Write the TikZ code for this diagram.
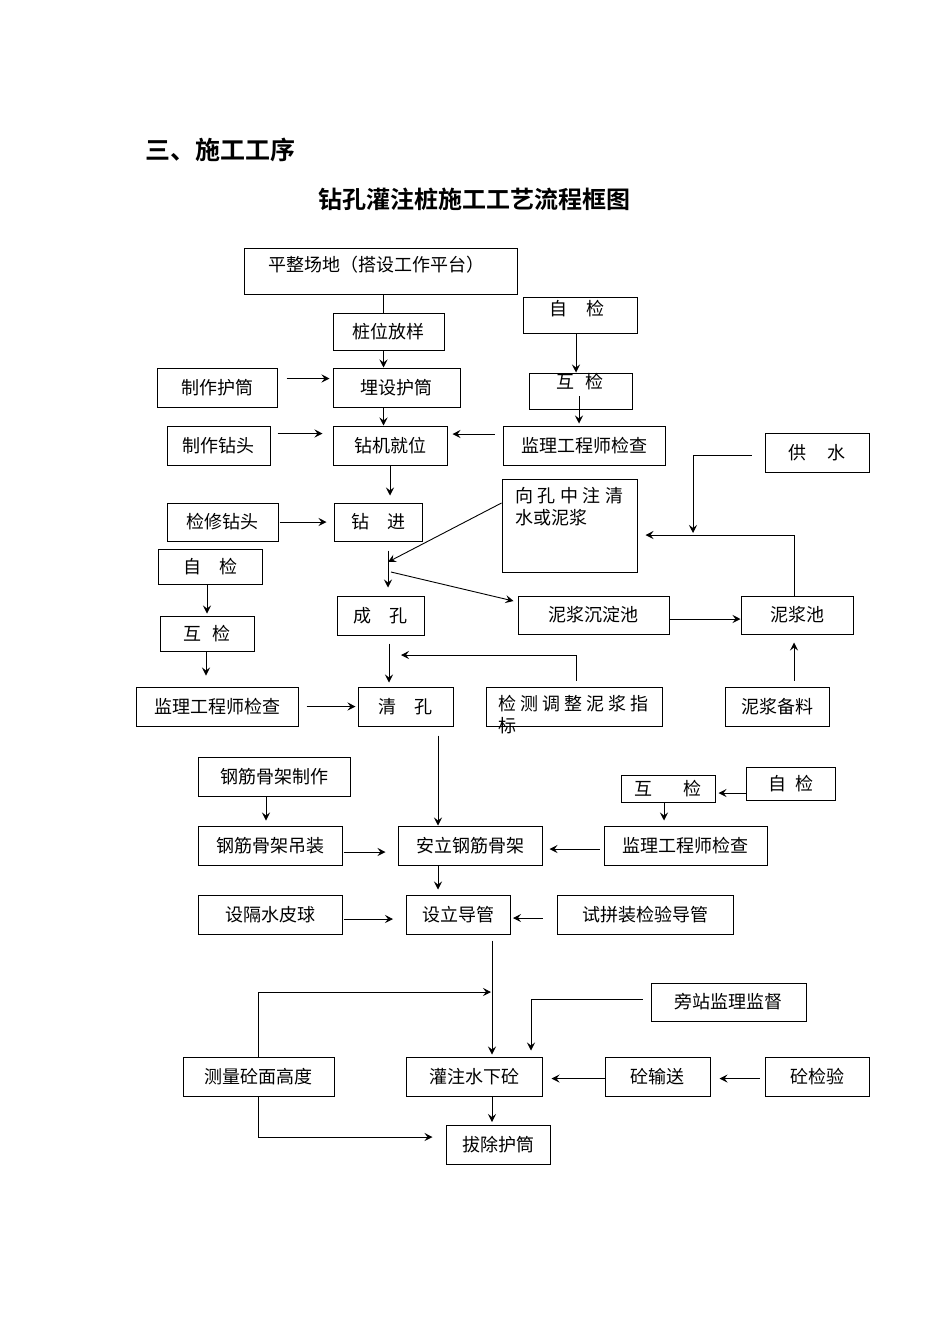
\documentclass[tikz,border=0pt]{standalone}
\usepackage{fontspec}
\usepackage{tikz}
\usetikzlibrary{arrows.meta,positioning,calc}
\newfontfamily\cjk{Noto Sans CJK SC}
\newfontfamily\cjkbf{Noto Sans CJK SC Bold}

\begin{document}
\begin{tikzpicture}[x=1pt, y=-1pt,
    box/.style={draw, line width=1pt, inner sep=0pt, minimum height=39pt, font=\cjk\fontsize{18}{22}\selectfont},
    txt/.style={inner sep=0pt, font=\cjk\fontsize{18}{22}\selectfont, align=left},
    arr/.style={line width=0.9pt, -{Stealth[length=8pt,width=8pt,inset=3pt]}},
    ln/.style={line width=0.9pt}]
    \useasboundingbox (0,0) rectangle (950,1344);

    % Titles
    \node[anchor=west, inner sep=0pt, font=\cjkbf\fontsize{25}{28}\selectfont] (sec) at (145,150) {三、施工工序};
    \node[inner sep=0pt, font=\cjkbf\fontsize{24}{28}\selectfont] (title) at (474,199) {钻孔灌注桩施工工艺流程框图};

    % Boring column
    \node[box, minimum width=273pt, minimum height=46pt] (pzcd) at (380.5,271) {};
    \node[txt] (pzcdt) at (376,265) {平整场地（搭设工作平台）};
    \node[box, minimum width=111pt, minimum height=37pt] (zwfy) at (388.5,331.5) {桩位放样};
    \node[box, minimum width=120pt] (zzhd) at (217,387.5) {制作护筒};
    \node[box, minimum width=127pt] (mshd) at (396.5,387.5) {埋设护筒};
    \node[box, minimum width=103pt] (zzzt) at (218.5,445.5) {制作钻头};
    \node[box, minimum width=114pt] (zjjw) at (390,445.5) {钻机就位};
    \node[box, minimum width=111pt, minimum height=38pt] (jxzt) at (222.5,522) {检修钻头};
    \node[box, minimum width=88pt, minimum height=38pt] (zj) at (378,522) {钻\hspace{1em}进};
    \node[box, minimum width=87pt] (ck) at (380.5,615.5) {成\hspace{1em}孔};
    \node[box, minimum width=95pt] (qk) at (405.5,706.5) {清\hspace{1em}孔};

    % Checks, top right
    \node[box, minimum width=114pt, minimum height=36pt] (zj1) at (580,315) {};
    \node[txt] (zj1t) at (577,309) {自\hspace{1.1em}检};
    \node[box, minimum width=103pt, minimum height=36pt] (hj1) at (580.5,391) {};
    \node[txt] (hj1t) at (580,382) {互\hspace{0.6em}检};
    \node[box, minimum width=162pt] (jl1) at (584,445.5) {监理工程师检查};

    % Mud circuit
    \node[box, minimum width=104pt] (gs) at (817,452.5) {供\hspace{1.2em}水};
    \node[box, minimum width=135pt, minimum height=93pt] (xk) at (569.5,525.5) {};
    \node[txt, anchor=north west] (xkt) at (515,487) {向\hspace{4.5pt}孔\hspace{4.5pt}中\hspace{4.5pt}注\hspace{4.5pt}清\\水或泥浆};
    \node[box, minimum width=151pt, minimum height=38pt] (njcd) at (593.5,615) {泥浆沉淀池};
    \node[box, minimum width=112pt, minimum height=38pt] (njc) at (797,615) {泥浆池};
    \node[box, minimum width=176pt] (jctz) at (574,706.5) {};
    \node[txt, anchor=north west] (jctzt) at (498,695) {检\hspace{4pt}测\hspace{4pt}调\hspace{4pt}整\hspace{4pt}泥\hspace{4pt}浆\hspace{4pt}指\\标};
    \node[box, minimum width=104pt] (njbl) at (777,706.5) {泥浆备料};

    % Checks, left
    \node[box, minimum width=104pt, minimum height=35pt] (zj2) at (210,566.5) {自\hspace{1em}检};
    \node[box, minimum width=94pt, minimum height=35pt] (hj2) at (207,633.5) {互\hspace{0.6em}检};
    \node[box, minimum width=162pt] (jl2) at (217,706.5) {监理工程师检查};

    % Cage and tremie
    \node[box, minimum width=152pt] (gjzz) at (274,776.5) {钢筋骨架制作};
    \node[box, minimum width=144pt] (gjdz) at (270,845.5) {钢筋骨架吊装};
    \node[box, minimum width=144pt] (alg) at (470,845.5) {安立钢筋骨架};
    \node[box, minimum width=94pt, minimum height=27pt] (hj3) at (668,788.5) {互\hspace{1.7em}检};
    \node[box, minimum width=89pt, minimum height=33pt] (zj3) at (791,783.5) {自\hspace{0.5em}检};
    \node[box, minimum width=163pt] (jl3) at (685.5,845.5) {监理工程师检查};
    \node[box, minimum width=144pt] (sgs) at (270,914.5) {设隔水皮球};
    \node[box, minimum width=104pt] (sldg) at (458.5,914.5) {设立导管};
    \node[box, minimum width=176pt] (spz) at (645,914.5) {试拼装检验导管};

    % Concreting
    \node[box, minimum width=155pt, minimum height=38pt] (pzjl) at (728.5,1002) {旁站监理监督};
    \node[box, minimum width=151pt] (clgm) at (258.5,1076.5) {测量砼面高度};
    \node[box, minimum width=136pt] (gz) at (474,1076.5) {灌注水下砼};
    \node[box, minimum width=105pt] (tss) at (657.5,1076.5) {砼输送};
    \node[box, minimum width=104pt] (tjy) at (817,1076.5) {砼检验};
    \node[box, minimum width=104pt] (bc) at (498,1145) {拔除护筒};

    \coordinate (jin) at (388,562);
    \coordinate (jout) at (391,572);
    \coordinate (gsd) at (693,533);
    \coordinate (jcl) at (401,655);
    \coordinate (cm1) at (491,992);

    % Connectors, boring column
    \draw[ln] ([xshift=-5pt]zwfy.north) -- ([xshift=-5pt]zwfy.north |- pzcd.south);
    \draw[arr] ([xshift=-5pt]zwfy.south) -- ([xshift=-5pt]zwfy.south |- mshd.north);
    \draw[arr, shorten <=9pt, shorten >=3pt] ([yshift=9pt]zzhd.east) -- ([yshift=9pt]zzhd.east -| mshd.west);
    \draw[arr] ([xshift=-13pt]mshd.south) -- ([xshift=-13pt]mshd.south |- zjjw.north);
    \draw[arr, shorten <=7pt, shorten >=10pt] ([yshift=12pt]zzzt.east) -- ([yshift=12pt]zzzt.east -| zjjw.west);
    \draw[arr, shorten <=8pt, shorten >=5pt] ([yshift=11.5pt]jl1.west) -- ([yshift=11.5pt]jl1.west -| zjjw.east);
    \draw[arr] ([xshift=-4pt]zj1.south) -- ([xshift=-4pt]zj1.south |- hj1.north);
    \draw[arr, shorten >=2pt] ([xshift=-1.5pt,yshift=-5pt]hj1.center) -- ([xshift=-1.5pt]hj1.center |- jl1.north);
    \draw[arr, shorten >=7pt] (zjjw.south) -- (zjjw.south |- zj.north);
    \draw[arr, shorten <=1pt, shorten >=7pt] (jxzt.east) -- (zj.west);
    \draw[arr, shorten <=9pt, shorten >=8pt] ([xshift=10pt]zj.south) -- ([xshift=10pt]zj.south |- ck.north);
    \draw[arr] ([yshift=22.5pt]xk.west) -- (jin);
    \draw[arr] (jout) -- ([xshift=-4pt,yshift=14pt]njcd.west);
    \draw[arr] ([yshift=-4pt]njcd.east) -- ([yshift=-4pt]njcd.east -| njc.west);
    \draw[arr] ([xshift=-3pt]njc.north) |- ([xshift=8pt,yshift=-9.5pt]xk.east);
    \draw[arr] ([xshift=-13pt,yshift=-2.5pt]gs.west) -| (gsd);
    \draw[arr, shorten <=6pt, shorten >=8pt] ([xshift=17pt]njbl.north) -- ([xshift=17pt]njbl.north |- njc.south);
    \draw[arr, shorten >=2pt] ([xshift=-3pt]zj2.south) -- ([xshift=-3pt]zj2.south |- hj2.north);
    \draw[arr, shorten >=11pt] ([xshift=-1pt]hj2.south) -- ([xshift=-1pt]hj2.south |- jl2.north);
    \draw[arr, shorten <=8pt, shorten >=2pt] (jl2.east) -- (qk.west);
    \draw[arr, shorten <=8pt, shorten >=4pt] ([xshift=8.5pt]ck.south) -- ([xshift=8.5pt]ck.south |- qk.north);
    \draw[arr, shorten <=6pt] ([xshift=2pt]jctz.north) |- (jcl);

    % Connectors, cage and tremie
    \draw[arr, shorten <=9pt] ([xshift=32.5pt]qk.south) -- ([xshift=32.5pt]qk.south |- alg.north);
    \draw[arr, shorten >=5pt] ([xshift=-8pt]gjzz.south) -- ([xshift=-8pt]gjzz.south |- gjdz.north);
    \draw[arr, shorten <=1pt, shorten >=12pt] ([yshift=-6.5pt]gjdz.east) -- ([yshift=-6.5pt]gjdz.east -| alg.west);
    \draw[arr, shorten <=4pt, shorten >=7pt] ([yshift=-3.5pt]jl3.west) -- ([yshift=-3.5pt]jl3.west -| alg.east);
    \draw[arr, shorten >=3pt] ([yshift=-9.5pt]zj3.west) -- ([yshift=-9.5pt]zj3.west -| hj3.east);
    \draw[arr, shorten >=5pt] ([xshift=-4pt]hj3.south) -- ([xshift=-4pt]hj3.south |- jl3.north);
    \draw[arr, shorten >=5pt] ([xshift=-32pt]alg.south) -- ([xshift=-32pt]alg.south |- sldg.north);
    \draw[arr, shorten <=1pt, shorten >=13pt] ([yshift=-4.5pt]sgs.east) -- ([yshift=-4.5pt]sgs.east -| sldg.west);
    \draw[arr, shorten <=14pt, shorten >=2pt] ([yshift=-3.5pt]spz.west) -- ([yshift=-3.5pt]spz.west -| sldg.east);

    % Connectors, concreting
    \draw[arr, shorten <=6pt, shorten >=2pt] ([xshift=33.5pt]sldg.south) -- ([xshift=33.5pt]sldg.south |- gz.north);
    \draw[arr] (clgm.north) |- (cm1);
    \draw[arr, shorten >=13pt] (clgm.south) |- ([yshift=8pt]bc.west);
    \draw[arr, shorten >=6pt] ([xshift=-8pt,yshift=3pt]pzjl.west) -| ([xshift=57pt]gz.north);
    \draw[arr, shorten >=9pt] ([yshift=-2pt]tss.west) -- ([yshift=-2pt]tss.west -| gz.east);
    \draw[arr, shorten <=5pt, shorten >=9pt] ([yshift=-2pt]tjy.west) -- ([yshift=-2pt]tjy.west -| tss.east);
    \draw[arr, shorten >=3pt] ([xshift=18pt]gz.south) -- ([xshift=18pt]gz.south |- bc.north);
\end{tikzpicture}
\end{document}
